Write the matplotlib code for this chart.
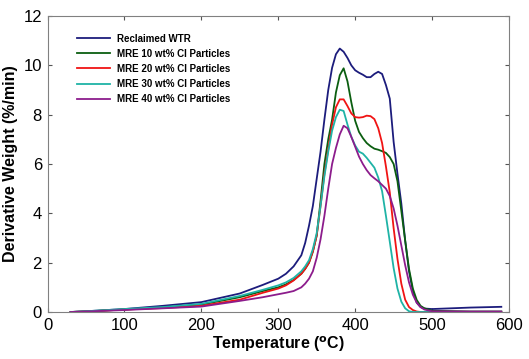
import matplotlib
matplotlib.use("Agg")
import matplotlib.pyplot as plt

# Temperature grid (deg C) shared by every series
temps = [30, 50, 100, 150, 200, 250, 280, 300, 310, 320, 330, 335, 340, 345,
         350, 355, 360, 365, 370, 375, 380, 385, 390, 395, 400, 405, 410,
         415, 420, 425, 430, 435, 440, 445, 450, 455, 460, 465, 470, 475,
         480, 485, 490, 500, 550, 590]

wtr = [0.0, 0.03, 0.12, 0.25, 0.40, 0.75, 1.10, 1.35, 1.55, 1.85, 2.30, 2.80,
       3.50, 4.30, 5.40, 6.50, 7.80, 9.00, 9.90, 10.45, 10.68, 10.55, 10.30,
       10.00, 9.80, 9.70, 9.62, 9.52, 9.52, 9.65, 9.74, 9.65, 9.20, 8.65,
       6.90, 5.60, 4.40, 2.90, 1.65, 0.85, 0.38, 0.20, 0.14, 0.12, 0.18, 0.21]

mre10 = [0.0, 0.02, 0.10, 0.18, 0.30, 0.60, 0.85, 1.00, 1.12, 1.30, 1.55, 1.75,
         2.00, 2.45, 3.10, 4.50, 6.00, 7.00, 7.80, 8.90, 9.60, 9.88, 9.35,
         8.50, 7.75, 7.30, 7.05, 6.85, 6.72, 6.62, 6.58, 6.52, 6.45, 6.28,
         6.00, 5.30, 4.10, 2.90, 1.75, 0.95, 0.49, 0.25, 0.15, 0.05, 0.02, 0.02]

mre20 = [0.0, 0.02, 0.10, 0.16, 0.25, 0.50, 0.78, 0.95, 1.08, 1.28, 1.55, 1.75,
         2.00, 2.45, 3.10, 4.30, 5.60, 6.60, 7.60, 8.30, 8.62, 8.62, 8.35,
         8.05, 7.90, 7.88, 7.90, 7.96, 7.94, 7.82, 7.45, 6.85, 5.90, 4.85,
         3.40, 2.15, 1.15, 0.50, 0.20, 0.08, 0.02, 0.0, 0.0, 0.0, 0.0, 0.0]

mre30 = [0.0, 0.03, 0.12, 0.20, 0.33, 0.65, 0.90, 1.08, 1.20, 1.38, 1.65, 1.85,
         2.10, 2.55, 3.20, 4.30, 5.50, 6.50, 7.35, 7.90, 8.20, 8.15, 7.60,
         7.10, 6.75, 6.50, 6.42, 6.25, 6.05, 5.85, 5.45, 4.90, 3.90, 2.85,
         1.78, 0.95, 0.42, 0.15, 0.03, 0.0, 0.0, 0.0, 0.0, 0.0, 0.0, 0.0]

mre40 = [0.0, 0.02, 0.08, 0.15, 0.22, 0.45, 0.60, 0.72, 0.78, 0.85, 1.00, 1.15,
         1.35, 1.65, 2.20, 2.95, 3.90, 5.00, 6.00, 6.65, 7.20, 7.55, 7.45,
         7.10, 6.70, 6.30, 6.00, 5.75, 5.55, 5.42, 5.30, 5.15, 5.00, 4.70,
         4.20, 3.50, 2.70, 1.90, 1.20, 0.70, 0.38, 0.20, 0.10, 0.03, 0.02, 0.02]

labels = ["Reclaimed WTR", "MRE 10 wt% CI Particles", "MRE 20 wt% CI Particles",
          "MRE 30 wt% CI Particles", "MRE 40 wt% CI Particles"]
colors = ["#1c1c7c", "#0b5e10", "#f01414", "#1fb3a6", "#8c1c8c"]

plt.rcParams["font.family"] = ["Liberation Sans", "DejaVu Sans"]

fig = plt.figure(figsize=(5.29, 3.59), dpi=100)
ax = fig.add_axes([47.5 / 529, 1 - 312 / 359, 461.5 / 529, 296 / 359])

for series, lab, col in zip([wtr, mre10, mre20, mre30, mre40], labels, colors):
    ax.plot(temps, series, color=col, lw=1.3, label=lab)

ax.set_xlim(0, 600)
ax.set_ylim(0, 12)
ax.set_xticks(range(0, 601, 100))
ax.set_yticks(range(0, 13, 2))
ax.tick_params(direction="in", top=True, right=True, length=3,
               labelsize=12, color="#555555", pad=4)
for sp in ax.spines.values():
    sp.set_color("#808080")

ax.set_xlabel("Temperature ($^{\\mathbf{o}}$C)", fontsize=11.5,
              fontweight="bold", labelpad=1)
ax.set_ylabel("Derivative Weight (%/min)", fontsize=11.5,
              fontweight="bold", labelpad=4)

leg = ax.legend(loc="upper left", bbox_to_anchor=(0.064, 0.94), frameon=False,
                borderpad=0, borderaxespad=0,
                handlelength=3.4, handletextpad=0.7, labelspacing=0.52,
                prop={"weight": "bold", "size": 7})

fig.savefig("out.png", dpi=100)
